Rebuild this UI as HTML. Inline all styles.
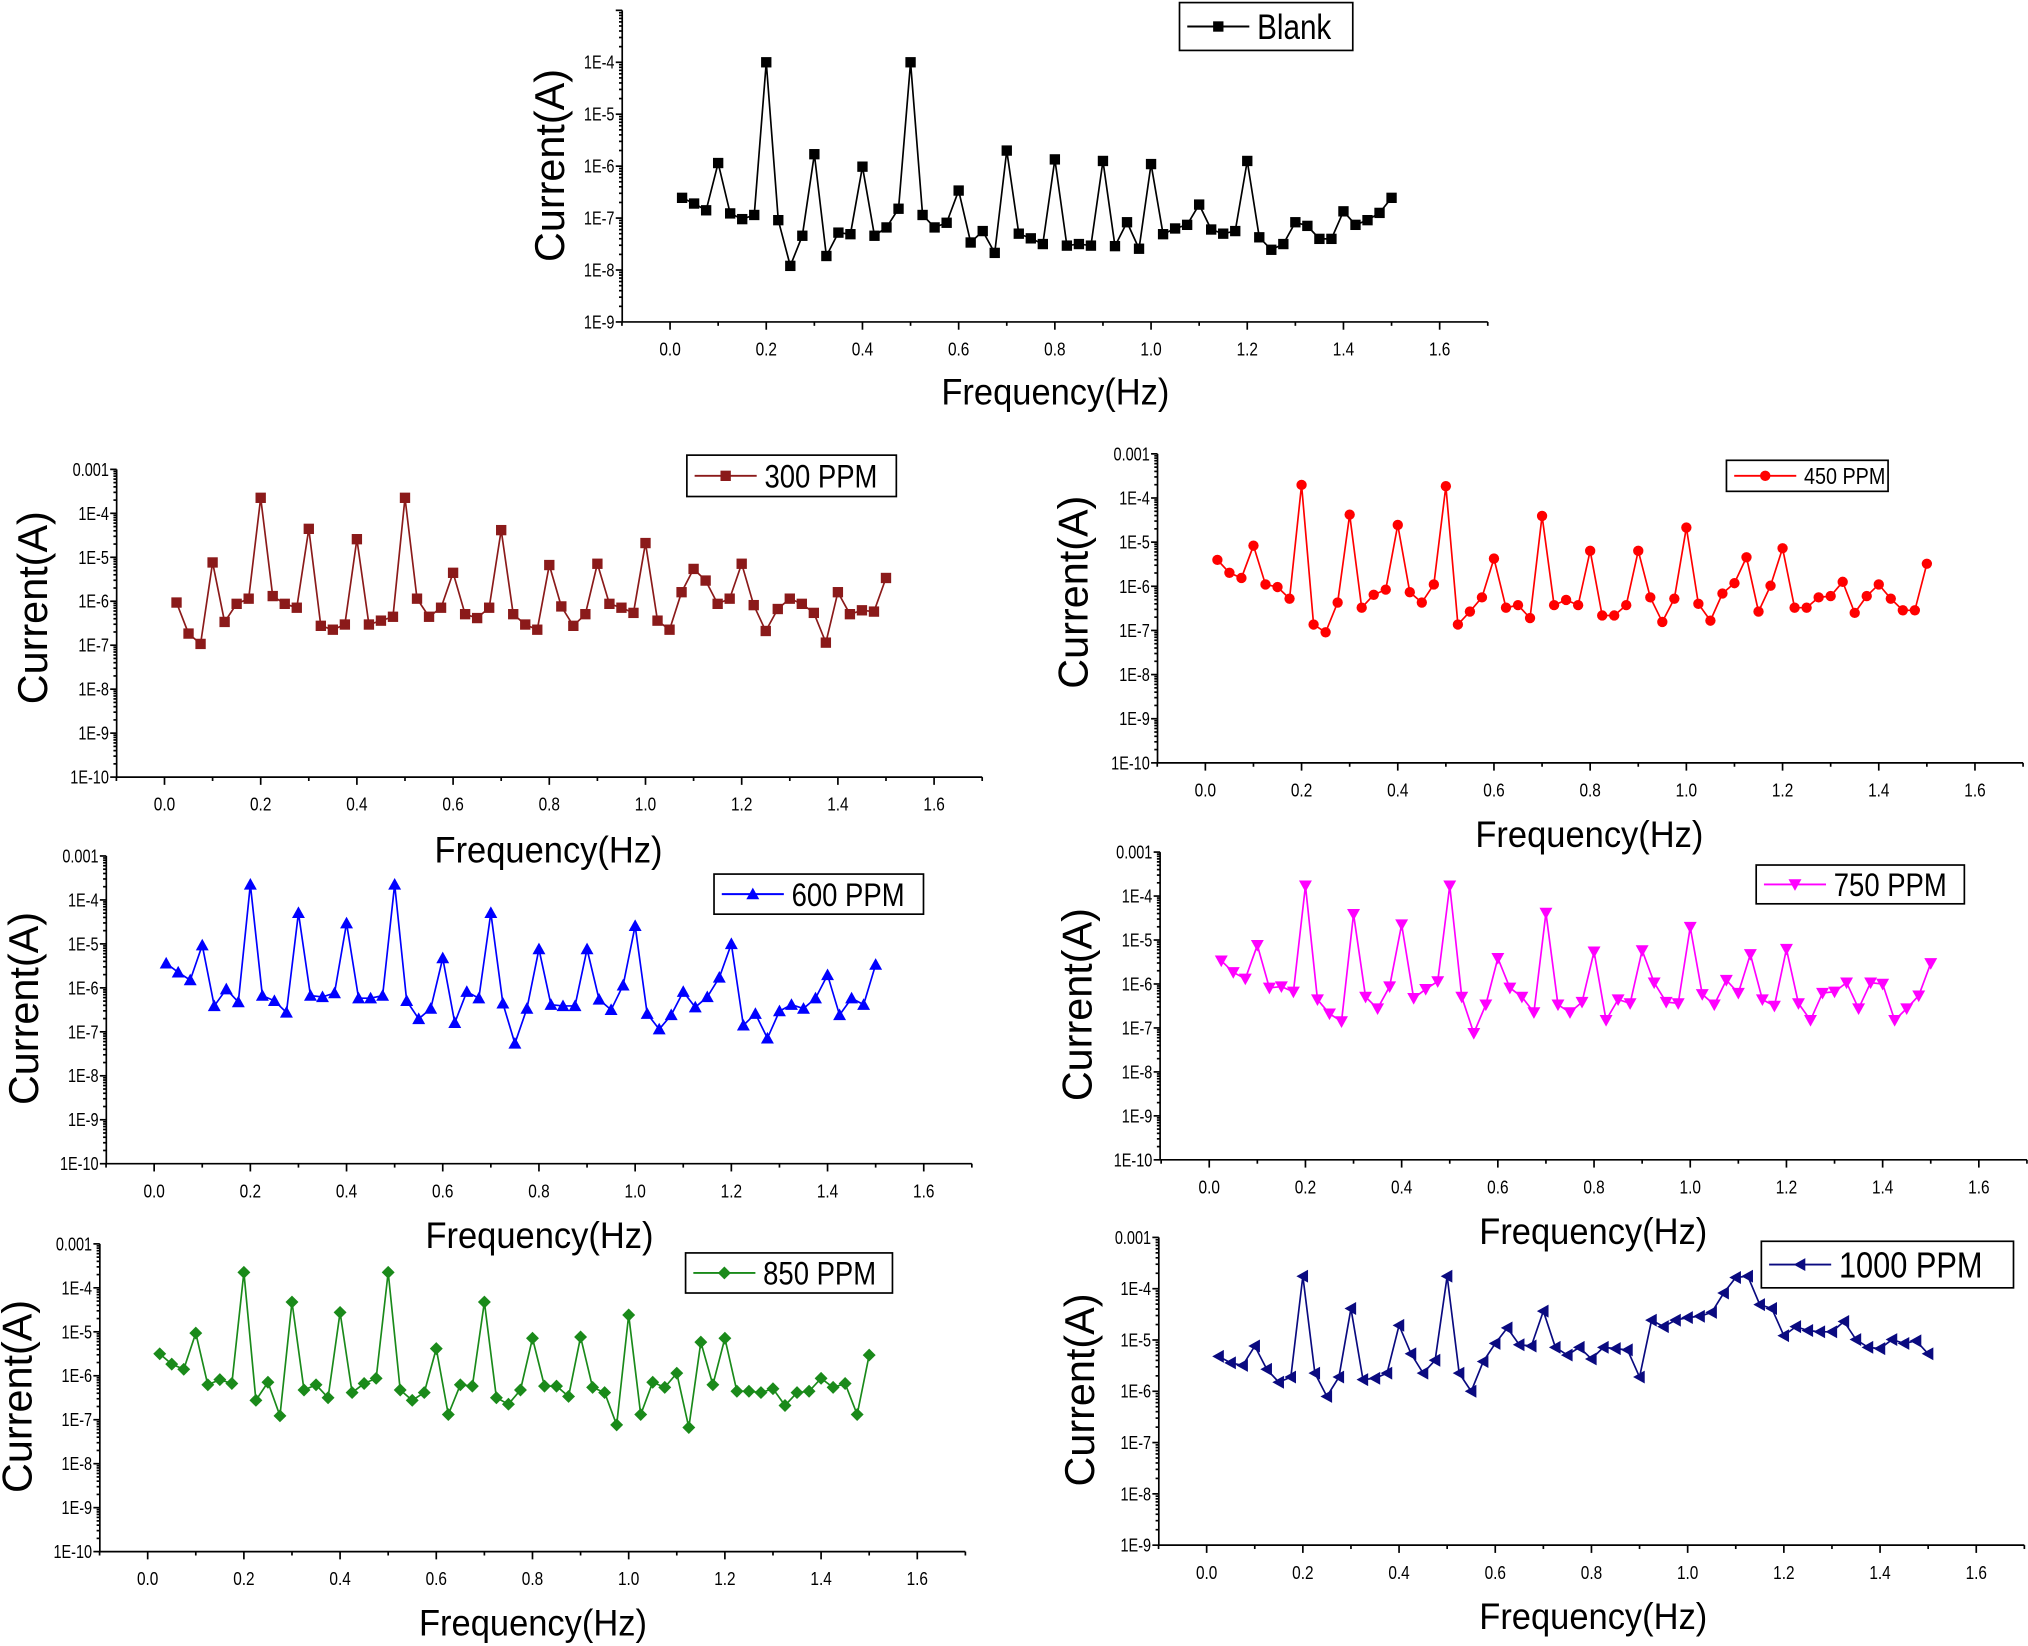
<!DOCTYPE html>
<html><head><meta charset="utf-8"><style>
html,body{margin:0;padding:0;background:#fff}
svg{display:block}
text{font-family:"Liberation Sans",sans-serif}
</style></head><body>
<svg id="s" width="2028" height="1646" viewBox="0 0 1568 1273" xmlns="http://www.w3.org/2000/svg"></svg>
<script>
const S=document.getElementById('s');let h='';
function T(x,y,s,fs,anchor,sx){return `<text transform="translate(${x},${y}) scale(${sx},1)" font-size="${fs}" text-anchor="${anchor}">${s}</text>`;}
function blankLogs(){return [-6.61,-6.72,-6.85,-5.94,-6.91,-7.02,-6.94,-4,-7.04,-7.92,-7.34,-5.77,-7.73,-7.28,-7.31,-6.01,-7.34,-7.18,-6.82,-4,-6.94,-7.18,-7.09,-6.47,-7.47,-7.25,-7.67,-5.70,-7.30,-7.39,-7.5,-5.87,-7.53,-7.5,-7.53,-5.9,-7.54,-7.08,-7.59,-5.96,-7.31,-7.2,-7.13,-6.74,-7.22,-7.3,-7.25,-5.9,-7.37,-7.61,-7.5,-7.08,-7.15,-7.4,-7.4,-6.87,-7.13,-7.04,-6.9,-6.61];}
const P=[
{ax:481,x0:518,bot:249,dmax:-3,dmin:-9,col:'#000',mk:'sq',logs:blankLogs(),yl:[425,128,32],xl:[816,303,29],lg:[912,2,134,37,'Blank',27],tp:8},
{ax:90,x0:127,bot:601,dmax:-3,dmin:-10,col:'#8b1a1a',mk:'sq',yl:[25,470,32],xl:[424,657,29],lg:[531,352,162,32,'300 PPM',25],
 ys:[466,490,498,435,481,467,463,385,461,467,470,409,484,487,483,417,483,480,477,385,463,477,470,443,475,478,470,410,475,483,487,437,469,484,475,436,467,470,474,420,480,487,458,440,449,467,463,436,468,488,471,463,467,474,497,458,475,472,473,447],tp:363},
{ax:895,x0:932,bot:590,dmax:-3,dmin:-10,col:'#f00',mk:'ci',yl:[830,458,32],xl:[1229,645,29],lg:[1335,356,125,24,'450 PPM',18],
 ys:[433,443,447,422,452,454,463,375,483,489,466,398,470,460,456,406,458,466,452,376,483,473,462,432,470,468,478,399,468,464,468,426,476,476,468,426,462,481,463,408,467,480,459,451,431,473,453,424,470,470,462,461,450,474,461,452,463,472,472,436],tp:351},
{ax:82,x0:119,bot:900,dmax:-3,dmin:-10,col:'#00f',mk:'tu',yl:[18,780,32],xl:[417,955,29],lg:[552,676,162,31,'600 PPM',25],
 ys:[745,752,758,731,778,765,775,684,770,774,783,706,770,771,768,714,772,772,770,684,774,788,780,741,791,767,772,706,776,807,780,734,777,778,778,734,773,781,762,716,784,796,785,767,779,771,756,730,793,784,803,782,777,780,772,754,785,772,777,746],tp:662},
{ax:897,x0:935,bot:897,dmax:-3,dmin:-10,col:'#f0f',mk:'td',yl:[833,777,32],xl:[1232,952,29],lg:[1358,669,161,30,'750 PPM',25],
 ys:[743,752,757,731,764,763,767,685,773,784,790,707,771,780,763,715,772,765,759,685,771,799,777,741,764,771,783,706,777,783,775,736,789,773,776,735,760,775,776,717,769,777,758,768,738,773,778,734,776,789,768,767,760,780,760,761,789,780,770,745],tp:659},
{ax:77,x0:114,bot:1200,dmax:-3,dmin:-10,col:'#1a8a1a',mk:'di',yl:[13,1080,32],xl:[412,1255,29],lg:[530,969,160,31,'850 PPM',25],
 ys:[1047,1055,1059,1031,1071,1067,1070,984,1083,1069,1095,1007,1075,1071,1081,1015,1077,1070,1066,984,1075,1083,1077,1043,1094,1071,1072,1007,1081,1086,1075,1035,1072,1072,1080,1034,1073,1077,1102,1017,1094,1069,1073,1062,1104,1038,1071,1035,1076,1076,1077,1074,1087,1077,1076,1066,1073,1070,1094,1048],tp:962},
{ax:896,x0:933,bot:1195,dmax:-3,dmin:-9,col:'#0a0a80',mk:'tl',yl:[835,1075,32],xl:[1232,1250,29],lg:[1362,960,195,36,'1000 PPM',28],
 ys:[1049,1054,1056,1041,1059,1069,1065,987,1062,1080,1065,1012,1067,1066,1062,1025,1047,1062,1052,987,1062,1076,1053,1039,1027,1040,1041,1014,1042,1048,1042,1051,1042,1043,1044,1065,1021,1026,1021,1019,1018,1015,1000,988,987,1009,1012,1033,1026,1029,1030,1030,1022,1036,1042,1043,1036,1039,1037,1047],tp:957}
];
function mark(t,x,y,c){const r=4;
 if(t=='sq')return `<rect x="${x-r}" y="${y-r}" width="${2*r}" height="${2*r}" fill="${c}"/>`;
 if(t=='ci')return `<circle cx="${x}" cy="${y}" r="${r}" fill="${c}"/>`;
 if(t=='tu')return `<polygon points="${x},${y-5} ${x-5},${y+4} ${x+5},${y+4}" fill="${c}"/>`;
 if(t=='td')return `<polygon points="${x},${y+5} ${x-5},${y-4} ${x+5},${y-4}" fill="${c}"/>`;
 if(t=='di')return `<polygon points="${x},${y-5} ${x+5},${y} ${x},${y+5} ${x-5},${y}" fill="${c}"/>`;
 if(t=='tl')return `<polygon points="${x-5},${y} ${x+4},${y-5} ${x+4},${y+5}" fill="${c}"/>`;}
P.forEach((p,i)=>{
 const ux=372, nd=p.dmax-p.dmin;
 const top=p.tp, dec=(p.bot-top)/nd;
 const Y=l=>p.bot-(l-p.dmin)*dec, X=f=>p.x0+f*ux;
 const right=X(1.7);
 h+=`<g stroke="#000" stroke-width="1.3" fill="none"><line x1="${p.ax}" y1="${top}" x2="${p.ax}" y2="${p.bot}"/><line x1="${p.ax}" y1="${p.bot}" x2="${right}" y2="${p.bot}"/>`;
 for(let d=p.dmin;d<=p.dmax;d++){h+=`<line x1="${p.ax-5}" y1="${Y(d)}" x2="${p.ax}" y2="${Y(d)}"/>`;
  if(d<p.dmax)for(let k=2;k<10;k++){const yy=Y(d+Math.log10(k));h+=`<line x1="${p.ax-2.5}" y1="${yy}" x2="${p.ax}" y2="${yy}"/>`;}}
 for(let f=-0.1;f<=1.701;f+=0.1){const xx=X(f);const maj=Math.abs(Math.round(f*10)%2)==0;h+=`<line x1="${xx}" y1="${p.bot}" x2="${xx}" y2="${p.bot+(maj?6:3)}"/>`;}
 h+=`</g>`;
 for(let d=p.dmin;d<=p.dmax;d++){if(i==0&&d==-3)continue;const s=d==-3?'0.001':'1E'+d;h+=T(p.ax-6,Y(d)+5,s,14,'end',0.8);}
 for(let f=0;f<=1.6001;f+=0.2){h+=T(X(f),p.bot+26,f.toFixed(1),14,'middle',0.85);}
 let logs=i==0?p.logs:p.ys.map(y=>-3-(y-top)/dec);
 let pts=logs.map((l,k)=>[X(0.025*(k+1)),Y(l)]);
 h+=`<polyline points="${pts.map(q=>q.join(',')).join(' ')}" fill="none" stroke="${p.col}" stroke-width="1.3"/>`;
 pts.forEach(q=>h+=mark(p.mk,q[0],q[1],p.col));
 const [lx,ly,fs]=p.yl;h+=`<text transform="translate(${lx+11},${ly}) rotate(-90)" font-size="${fs}" text-anchor="middle">Current(A)</text>`;
 const [xx,xy,xf]=p.xl;h+=T(xx,xy+10,'Frequency(Hz)',xf,'middle',0.92);
 const [gx,gy,gw,gh,gt,gf]=p.lg;h+=`<rect x="${gx}" y="${gy}" width="${gw}" height="${gh}" fill="#fff" stroke="#000" stroke-width="1.3"/>`;
 const my=gy+gh/2;h+=`<line x1="${gx+6}" y1="${my}" x2="${gx+54}" y2="${my}" stroke="${p.col}" stroke-width="1.5"/>`+mark(p.mk,gx+30,my,p.col);
 h+=T(gx+60,my+gf*0.36,gt,gf,'start',0.85);
});
S.innerHTML=h;
</script>
</body></html>
